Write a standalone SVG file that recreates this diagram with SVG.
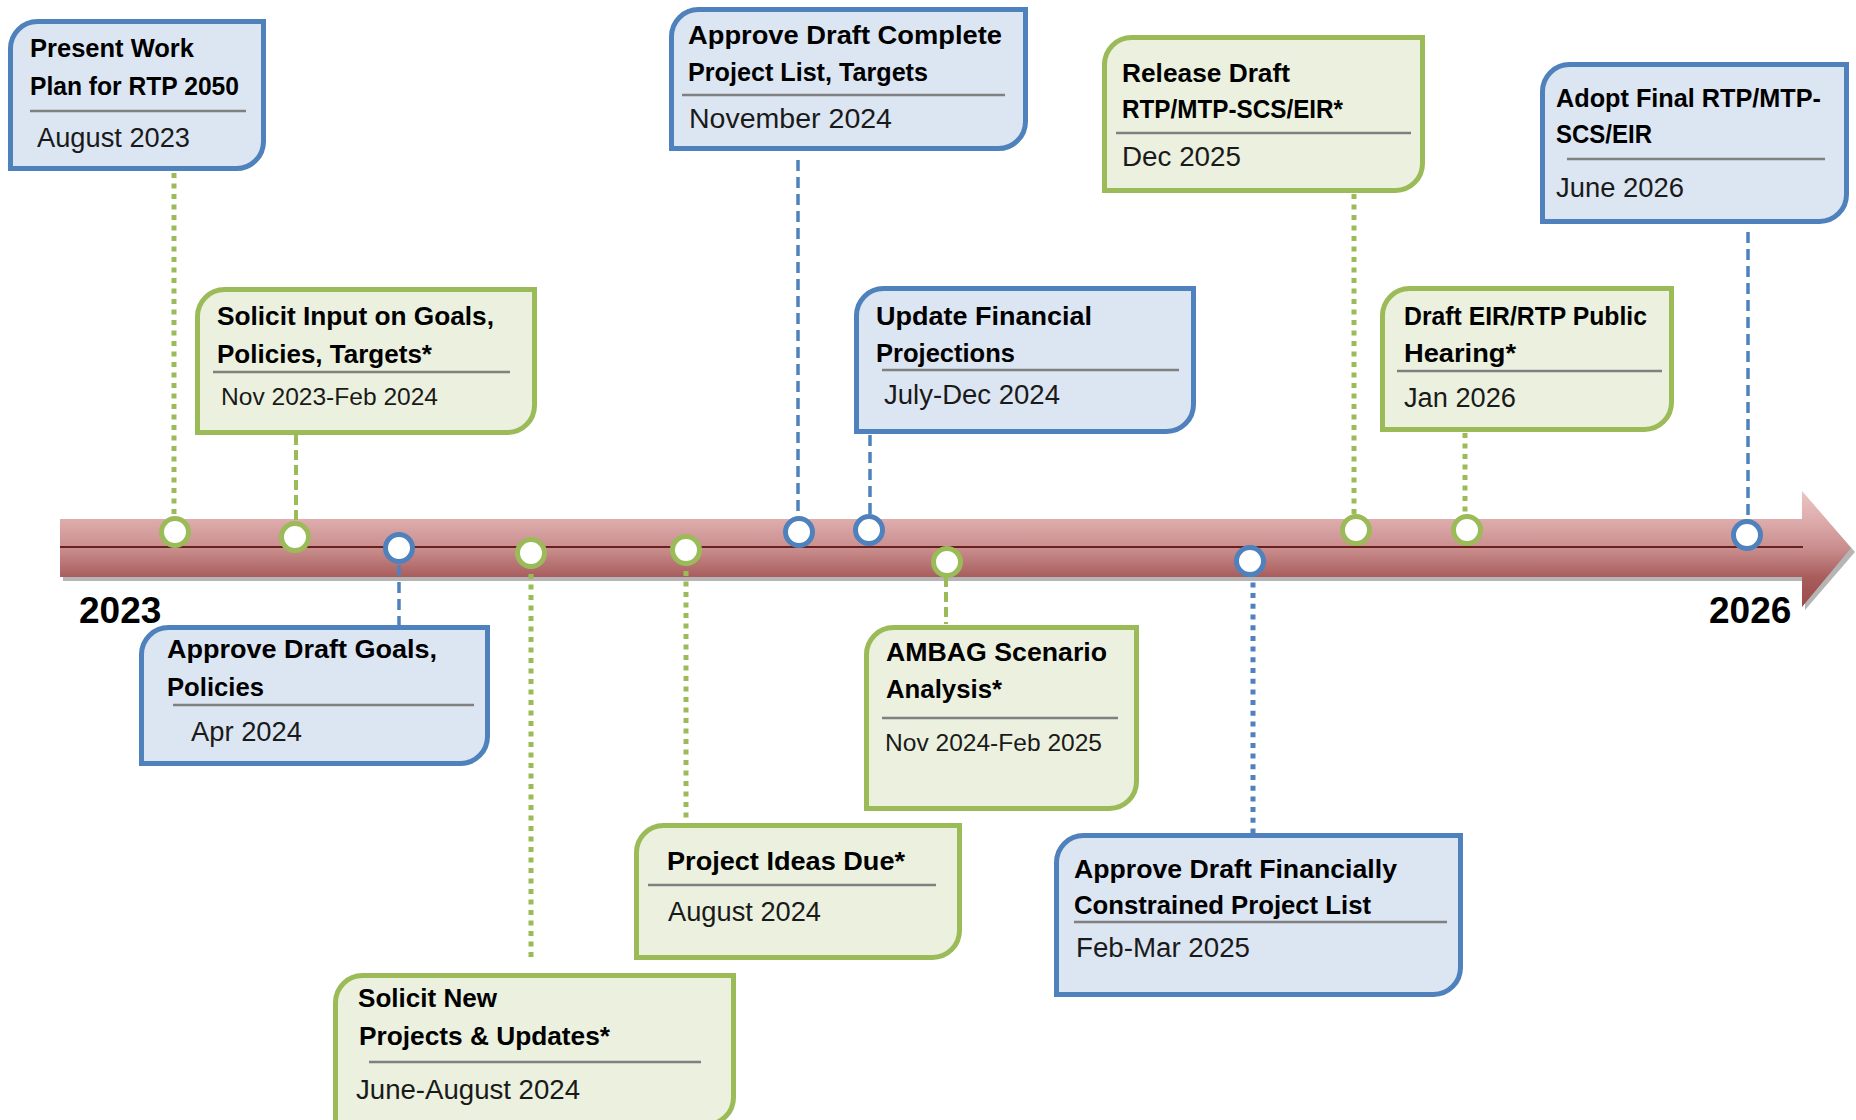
<svg xmlns="http://www.w3.org/2000/svg" width="1856" height="1120" viewBox="0 0 1856 1120">
<defs>
<linearGradient id="band" gradientUnits="userSpaceOnUse" x1="0" y1="491" x2="0" y2="607">
<stop offset="0" stop-color="#ebc4c4"/>
<stop offset="0.24" stop-color="#dfadad"/>
<stop offset="0.5" stop-color="#c98d8d"/>
<stop offset="0.74" stop-color="#a95d5d"/>
<stop offset="1" stop-color="#9a4a4a"/>
</linearGradient>
<style>
.bbox{fill:#dce6f2;stroke:#4f81bd;stroke-width:5}
.gbox{fill:#ebf1de;stroke:#9bbb59;stroke-width:5}
.sep{stroke:#808080;stroke-width:2.5}
.t{font-family:"Liberation Sans",Arial,sans-serif;font-weight:bold;font-size:25px;fill:#000}
.d{font-family:"Liberation Sans",Arial,sans-serif;font-size:27px;fill:#1a1a1a}
.ds{font-family:"Liberation Sans",Arial,sans-serif;font-size:24.5px;fill:#1a1a1a}
.yr{font-family:"Liberation Sans",Arial,sans-serif;font-weight:bold;font-size:37px;fill:#000}
.gdot{stroke:#9bbb59;stroke-width:5;stroke-dasharray:5 5.5;fill:none}
.gdash{stroke:#9bbb59;stroke-width:4;stroke-dasharray:10 5;fill:none}
.bdash{stroke:#4f81bd;stroke-width:3.5;stroke-dasharray:11 6;fill:none}
.bdot{stroke:#4f81bd;stroke-width:5;stroke-dasharray:5 5.7;fill:none}
.gc{fill:#fff;stroke:#9bbb59;stroke-width:5}
.bc{fill:#fff;stroke:#4f81bd;stroke-width:5}
</style>
</defs>
<rect width="1856" height="1120" fill="#fff"/>

<g id="timeline">
<polygon points="63,581 1805,581 1805,610 1855,552 1805,495 1805,523 63,523" fill="#b5b5b5"/>
<polygon points="60,519 1802,519 1802,491 1851,548 1802,607 1802,577 60,577" fill="url(#band)"/>
<line x1="60" y1="547" x2="1803" y2="547" stroke="#6b2020" stroke-width="2"/>
<text class="yr" x="79" y="623">2023</text>
<text class="yr" x="1709" y="623">2026</text>
</g>

<g id="connectors">
<line class="gdot" x1="174" y1="173" x2="174" y2="532"/>
<line class="gdash" x1="296" y1="435" x2="296" y2="537"/>
<line class="bdash" x1="399" y1="548" x2="399" y2="626"/>
<line class="gdot" x1="531" y1="553" x2="531" y2="960"/>
<line class="gdot" x1="686" y1="550" x2="686" y2="818"/>
<line class="bdash" x1="798" y1="160" x2="798" y2="532"/>
<line class="bdash" x1="870" y1="435" x2="870" y2="530"/>
<line class="gdash" x1="946" y1="562" x2="946" y2="624"/>
<line class="bdot" x1="1253" y1="561" x2="1253" y2="834"/>
<line class="gdot" x1="1354" y1="194" x2="1354" y2="530"/>
<line class="gdot" x1="1465" y1="433" x2="1465" y2="530"/>
<line class="bdash" x1="1748" y1="232" x2="1748" y2="535"/>
</g>

<g id="milestones">
<circle class="gc" cx="175" cy="532" r="13.5"/>
<circle class="gc" cx="295" cy="537" r="13.5"/>
<circle class="bc" cx="399" cy="548" r="13.5"/>
<circle class="gc" cx="531" cy="553" r="13.5"/>
<circle class="gc" cx="686" cy="550" r="13.5"/>
<circle class="bc" cx="799" cy="532" r="13.5"/>
<circle class="bc" cx="869" cy="530" r="13.5"/>
<circle class="gc" cx="947" cy="562" r="13.5"/>
<circle class="bc" cx="1250" cy="561" r="13.5"/>
<circle class="gc" cx="1356" cy="530" r="13.5"/>
<circle class="gc" cx="1467" cy="530" r="13.5"/>
<circle class="bc" cx="1747" cy="535" r="13.5"/>
</g>

<g id="present-work">
<path class="bbox" d="M10.5,48.5 A27,27 0 0 1 37.5,21.5 H263.5 V141.5 A27,27 0 0 1 236.5,168.5 H10.5 Z"/>
<text class="t" x="30" y="57" textLength="164" lengthAdjust="spacingAndGlyphs">Present Work</text>
<text class="t" x="30" y="95" textLength="209" lengthAdjust="spacingAndGlyphs">Plan for RTP 2050</text>
<line class="sep" x1="30" y1="111" x2="246" y2="111"/>
<text class="d" x="37" y="147" textLength="153" lengthAdjust="spacingAndGlyphs">August 2023</text>
</g>

<g id="solicit-input">
<path class="gbox" d="M197.5,316.5 A27,27 0 0 1 224.5,289.5 H534.5 V405.5 A27,27 0 0 1 507.5,432.5 H197.5 Z"/>
<text class="t" x="217" y="325" textLength="277" lengthAdjust="spacingAndGlyphs">Solicit Input on Goals,</text>
<text class="t" x="217" y="363" textLength="215" lengthAdjust="spacingAndGlyphs">Policies, Targets*</text>
<line class="sep" x1="213" y1="372" x2="510" y2="372"/>
<text class="ds" x="221" y="405" textLength="217" lengthAdjust="spacingAndGlyphs">Nov 2023-Feb 2024</text>
</g>

<g id="approve-goals">
<path class="bbox" d="M141.5,654.5 A27,27 0 0 1 168.5,627.5 H487.5 V736.5 A27,27 0 0 1 460.5,763.5 H141.5 Z"/>
<text class="t" x="167" y="658" textLength="270" lengthAdjust="spacingAndGlyphs">Approve Draft Goals,</text>
<text class="t" x="167" y="696" textLength="97" lengthAdjust="spacingAndGlyphs">Policies</text>
<line class="sep" x1="173" y1="705" x2="474" y2="705"/>
<text class="d" x="191" y="741" textLength="111" lengthAdjust="spacingAndGlyphs">Apr 2024</text>
</g>

<g id="solicit-new">
<path class="gbox" d="M335.5,1002.5 A27,27 0 0 1 362.5,975.5 H733.5 V1097.5 A27,27 0 0 1 706.5,1124.5 H335.5 Z"/>
<text class="t" x="358" y="1007" textLength="139" lengthAdjust="spacingAndGlyphs">Solicit New</text>
<text class="t" x="359" y="1045" textLength="251" lengthAdjust="spacingAndGlyphs">Projects &amp; Updates*</text>
<line class="sep" x1="369" y1="1062" x2="701" y2="1062"/>
<text class="d" x="356" y="1099" textLength="224" lengthAdjust="spacingAndGlyphs">June-August 2024</text>
</g>

<g id="project-ideas">
<path class="gbox" d="M636.5,852.5 A27,27 0 0 1 663.5,825.5 H959.5 V930.5 A27,27 0 0 1 932.5,957.5 H636.5 Z"/>
<text class="t" x="667" y="870" textLength="238" lengthAdjust="spacingAndGlyphs">Project Ideas Due*</text>
<line class="sep" x1="648" y1="885" x2="936" y2="885"/>
<text class="d" x="668" y="921" textLength="153" lengthAdjust="spacingAndGlyphs">August 2024</text>
</g>

<g id="approve-complete">
<path class="bbox" d="M671.5,36.5 A27,27 0 0 1 698.5,9.5 H1025.5 V121.5 A27,27 0 0 1 998.5,148.5 H671.5 Z"/>
<text class="t" x="688" y="44" textLength="314" lengthAdjust="spacingAndGlyphs">Approve Draft Complete</text>
<text class="t" x="688" y="81" textLength="240" lengthAdjust="spacingAndGlyphs">Project List, Targets</text>
<line class="sep" x1="682" y1="95" x2="1005" y2="95"/>
<text class="d" x="689" y="128" textLength="203" lengthAdjust="spacingAndGlyphs">November 2024</text>
</g>

<g id="update-financial">
<path class="bbox" d="M856.5,315.5 A27,27 0 0 1 883.5,288.5 H1193.5 V404.5 A27,27 0 0 1 1166.5,431.5 H856.5 Z"/>
<text class="t" x="876" y="325" textLength="216" lengthAdjust="spacingAndGlyphs">Update Financial</text>
<text class="t" x="876" y="362" textLength="139" lengthAdjust="spacingAndGlyphs">Projections</text>
<line class="sep" x1="882" y1="370" x2="1179" y2="370"/>
<text class="d" x="884" y="404" textLength="176" lengthAdjust="spacingAndGlyphs">July-Dec 2024</text>
</g>

<g id="ambag">
<path class="gbox" d="M866.5,654.5 A27,27 0 0 1 893.5,627.5 H1136.5 V781.5 A27,27 0 0 1 1109.5,808.5 H866.5 Z"/>
<text class="t" x="886" y="661" textLength="221" lengthAdjust="spacingAndGlyphs">AMBAG Scenario</text>
<text class="t" x="886" y="698" textLength="116" lengthAdjust="spacingAndGlyphs">Analysis*</text>
<line class="sep" x1="882" y1="718" x2="1118" y2="718"/>
<text class="ds" x="885" y="751" textLength="217" lengthAdjust="spacingAndGlyphs">Nov 2024-Feb 2025</text>
</g>

<g id="approve-financially">
<path class="bbox" d="M1056.5,862.5 A27,27 0 0 1 1083.5,835.5 H1460.5 V967.5 A27,27 0 0 1 1433.5,994.5 H1056.5 Z"/>
<text class="t" x="1074" y="878" textLength="323" lengthAdjust="spacingAndGlyphs">Approve Draft Financially</text>
<text class="t" x="1074" y="914" textLength="297" lengthAdjust="spacingAndGlyphs">Constrained Project List</text>
<line class="sep" x1="1074" y1="922" x2="1447" y2="922"/>
<text class="d" x="1076" y="957" textLength="174" lengthAdjust="spacingAndGlyphs">Feb-Mar 2025</text>
</g>

<g id="release-draft">
<path class="gbox" d="M1104.5,64.5 A27,27 0 0 1 1131.5,37.5 H1422.5 V163.5 A27,27 0 0 1 1395.5,190.5 H1104.5 Z"/>
<text class="t" x="1122" y="82" textLength="168" lengthAdjust="spacingAndGlyphs">Release Draft</text>
<text class="t" x="1122" y="118" textLength="221" lengthAdjust="spacingAndGlyphs">RTP/MTP-SCS/EIR*</text>
<line class="sep" x1="1116" y1="133" x2="1411" y2="133"/>
<text class="d" x="1122" y="166" textLength="119" lengthAdjust="spacingAndGlyphs">Dec 2025</text>
</g>

<g id="draft-eir-hearing">
<path class="gbox" d="M1382.5,315.5 A27,27 0 0 1 1409.5,288.5 H1671.5 V402.5 A27,27 0 0 1 1644.5,429.5 H1382.5 Z"/>
<text class="t" x="1404" y="325" textLength="243" lengthAdjust="spacingAndGlyphs">Draft EIR/RTP Public</text>
<text class="t" x="1404" y="362" textLength="112" lengthAdjust="spacingAndGlyphs">Hearing*</text>
<line class="sep" x1="1397" y1="371" x2="1662" y2="371"/>
<text class="d" x="1404" y="407" textLength="112" lengthAdjust="spacingAndGlyphs">Jan 2026</text>
</g>

<g id="adopt-final">
<path class="bbox" d="M1542.5,91.5 A27,27 0 0 1 1569.5,64.5 H1846.5 V194.5 A27,27 0 0 1 1819.5,221.5 H1542.5 Z"/>
<text class="t" x="1556" y="107" textLength="265" lengthAdjust="spacingAndGlyphs">Adopt Final RTP/MTP-</text>
<text class="t" x="1556" y="143" textLength="96" lengthAdjust="spacingAndGlyphs">SCS/EIR</text>
<line class="sep" x1="1567" y1="159" x2="1825" y2="159"/>
<text class="d" x="1556" y="197" textLength="128" lengthAdjust="spacingAndGlyphs">June 2026</text>
</g>
</svg>
